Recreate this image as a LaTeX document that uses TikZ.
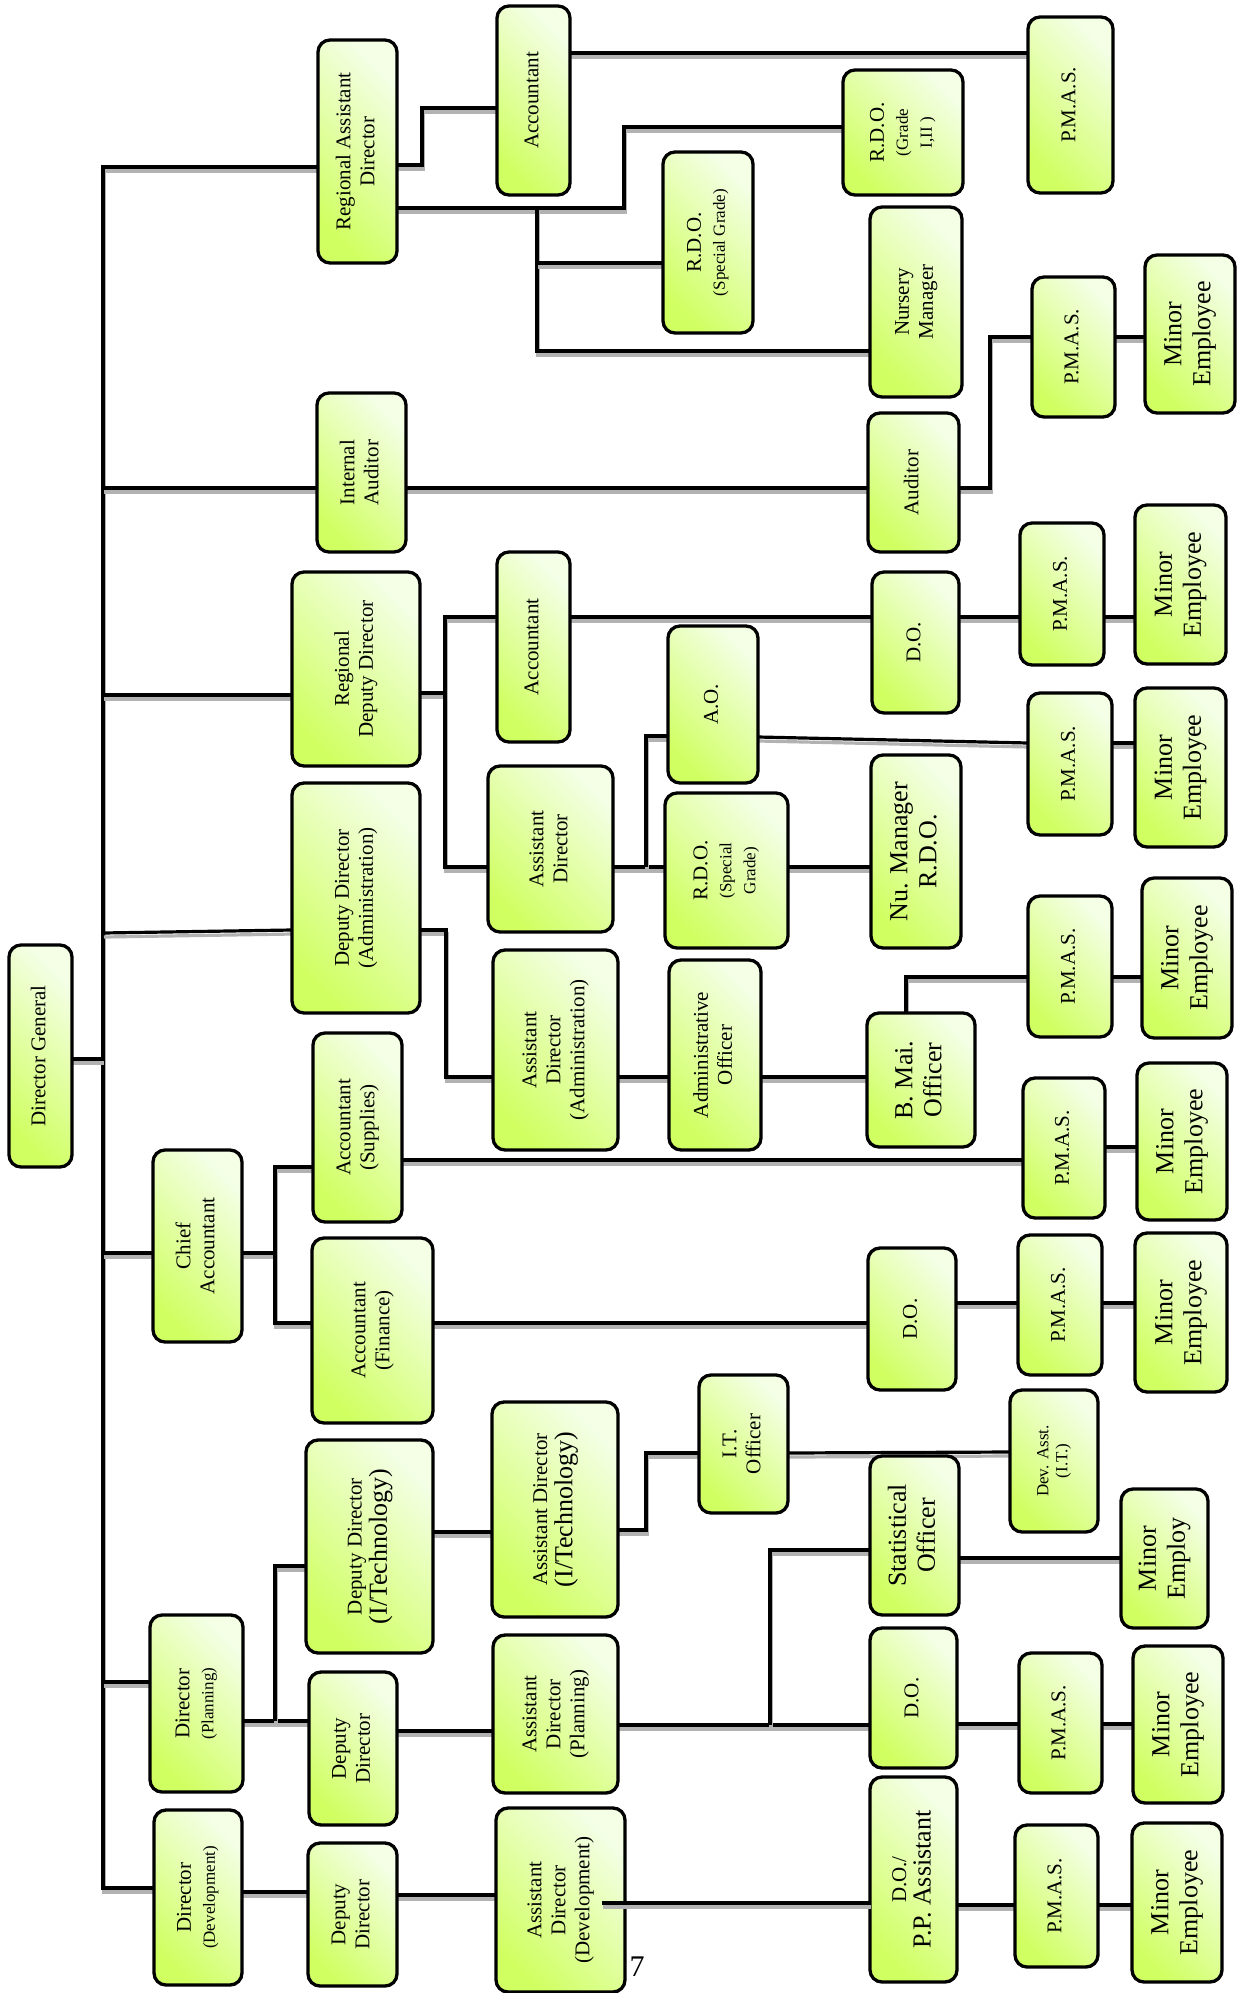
\documentclass[tikz,border=0pt]{standalone}
\usepackage{fontspec}
\usepackage{graphicx}
\setmainfont{Liberation Serif}
\usetikzlibrary{backgrounds}
\definecolor{gA}{HTML}{D0FF62}
\definecolor{gB}{HTML}{F4FFE6}
\newcommand\fsA{\fontsize{21}{24}\selectfont}
\newcommand\fsB{\fontsize{26}{29}\selectfont}
\newcommand\fsC{\fontsize{17}{19}\selectfont}
\newcommand\rtx[2][\fsA]{\rotatebox{90}{#1\begin{tabular}{@{}c@{}}#2\end{tabular}}}
\newcommand\ocbox[6]{%
  \pgfmathsetmacro\ocbcx{(#2+#4)/2}%
  \pgfmathsetmacro\ocbcy{(#3+#5)/2}%
  \pgfmathsetmacro\ocbww{#4-#2}%
  \pgfmathsetmacro\ocbhh{#5-#3}%
  \node[obox,minimum width=\ocbww pt,minimum height=\ocbhh pt] (#1) at (\ocbcx,\ocbcy) {#6};}
\tikzset{
  obox/.style={draw=black, line width=3.3pt, rounded corners=12pt,
    left color=gA, right color=gB, shading angle=135,
    inner sep=0pt, outer sep=0pt, text=black},
  conn/.style={line width=3.2pt, black,
    preaction={draw=gray!60, line width=3.2pt, transform canvas={shift={(1pt,-4pt)}}}}
}
\begin{document}
\begin{tikzpicture}[x=1pt,y=-1pt]
\useasboundingbox (0,0) rectangle (1241,1993);
% column 0
\ocbox{dg}{9}{945}{72}{1167}{\rtx{Director General}}
% column 1
\ocbox{rad}{318}{40}{397}{263}{\rtx{Regional Assistant\\Director}}
\ocbox{ia}{317}{393}{406}{552}{\rtx{Internal\\Auditor}}
\ocbox{rdd}{292}{572}{420}{766}{\rtx{Regional\\Deputy Director}}
\ocbox{dda}{292}{783}{420}{1013}{\rtx{Deputy Director\\(Administration)}}
\ocbox{ca}{153}{1150}{242}{1342}{\rtx{Chief\\Accountant}}
\ocbox{accs}{313}{1033}{402}{1222}{\rtx{Accountant\\(Supplies)}}
\ocbox{accf}{312}{1238}{433}{1423}{\rtx{Accountant\\(Finance)}}
\ocbox{ddit}{306}{1440}{433}{1653}{\rtx{Deputy Director\\\fsB(I/Technology)}}
\ocbox{dp}{150}{1615}{243}{1792}{\rtx{Director\\\fsC(Planning)}}
\ocbox{ddp}{309}{1672}{397}{1825}{\rtx{Deputy\\Director}}
\ocbox{dd}{154}{1810}{242}{1985}{\rtx{Director\\\fsC(Development)}}
\ocbox{ddd}{308}{1843}{397}{1986}{\rtx{Deputy\\Director}}
% column 2
\ocbox{acc1}{497}{6}{570}{195}{\rtx{Accountant}}
\ocbox{rdosg1}{663}{152}{753}{333}{\rtx{R.D.O.\\\fsC(Special Grade)}}
\ocbox{acc2}{497}{552}{570}{742}{\rtx{Accountant}}
\ocbox{ad1}{488}{766}{613}{932}{\rtx{Assistant\\Director}}
\ocbox{ao}{668}{626}{758}{783}{\rtx{A.O.}}
\ocbox{rdosg2}{665}{793}{788}{948}{\rtx{R.D.O.\\\fsC(Special\\\fsC Grade)}}
\ocbox{ada}{493}{950}{618}{1150}{\rtx{Assistant\\Director\\(Administration)}}
\ocbox{admo}{669}{960}{761}{1150}{\rtx{Administrative\\Officer}}
\ocbox{adit}{492}{1402}{618}{1617}{\rtx{Assistant Director\\\fsB(I/Technology)}}
\ocbox{ito}{699}{1375}{788}{1513}{\rtx{I.T.\\Officer}}
\ocbox{adp}{493}{1635}{618}{1793}{\rtx{Assistant\\Director\\(Planning)}}
\ocbox{add}{496}{1808}{625}{1992}{\rtx{Assistant\\Director\\(Development)}}
% column 3
\ocbox{rdog}{843}{70}{963}{195}{\rtx{R.D.O.\\\fsC(Grade\\\fsC I,II )}}
\ocbox{nm}{870}{207}{962}{397}{\rtx{Nursery\\Manager}}
\ocbox{aud}{868}{413}{959}{552}{\rtx{Auditor}}
\ocbox{do1}{872}{572}{959}{713}{\rtx{D.O.}}
\ocbox{num}{871}{755}{961}{948}{\rtx[\fsB]{Nu. Manager\\R.D.O.}}
\ocbox{bmo}{867}{1013}{975}{1147}{\rtx[\fsB]{B. Mai.\\Officer}}
\ocbox{do2}{868}{1248}{956}{1390}{\rtx{D.O.}}
\ocbox{so}{870}{1456}{959}{1615}{\rtx[\fsB]{Statistical\\Officer}}
\ocbox{do3}{870}{1628}{957}{1768}{\rtx{D.O.}}
\ocbox{dopp}{870}{1777}{957}{1982}{\rtx{D.O./\\\fsB P.P. Assistant}}
% column 4
\ocbox{pmas1}{1028}{17}{1113}{193}{\rtx{P.M.A.S.}}
\ocbox{pmas2}{1032}{277}{1115}{417}{\rtx{P.M.A.S.}}
\ocbox{pmas3}{1020}{523}{1104}{665}{\rtx{P.M.A.S.}}
\ocbox{pmas4}{1028}{693}{1112}{835}{\rtx{P.M.A.S.}}
\ocbox{pmas5}{1028}{896}{1112}{1037}{\rtx{P.M.A.S.}}
\ocbox{pmas6}{1023}{1078}{1105}{1218}{\rtx{P.M.A.S.}}
\ocbox{pmas7}{1018}{1235}{1102}{1375}{\rtx{P.M.A.S.}}
\ocbox{dev}{1010}{1390}{1098}{1532}{\rtx[\fsC]{Dev. Asst.\\(I.T.)}}
\ocbox{pmas8}{1019}{1653}{1102}{1793}{\rtx{P.M.A.S.}}
\ocbox{pmas9}{1015}{1825}{1098}{1967}{\rtx{P.M.A.S.}}
% column 5
\ocbox{me2}{1145}{255}{1235}{413}{\rtx[\fsB]{Minor\\Employee}}
\ocbox{me3}{1135}{505}{1226}{664}{\rtx[\fsB]{Minor\\Employee}}
\ocbox{me4}{1135}{688}{1226}{847}{\rtx[\fsB]{Minor\\Employee}}
\ocbox{me5}{1142}{878}{1232}{1038}{\rtx[\fsB]{Minor\\Employee}}
\ocbox{me6}{1137}{1063}{1227}{1220}{\rtx[\fsB]{Minor\\Employee}}
\ocbox{me7}{1135}{1233}{1227}{1392}{\rtx[\fsB]{Minor\\Employee}}
\ocbox{mem}{1121}{1489}{1208}{1628}{\rtx[\fsB]{Minor\\Employ}}
\ocbox{me8}{1133}{1646}{1223}{1803}{\rtx[\fsB]{Minor\\Employee}}
\ocbox{me9}{1132}{1823}{1222}{1982}{\rtx[\fsB]{Minor\\Employee}}
% page number
\node[inner sep=0pt] (pg) at (637,1967) {\fontsize{30}{32}\selectfont 7};
% junction coordinates
\coordinate (ttop) at (103,167);
\coordinate (tbot) at (103,1888);
\coordinate (jrad) at (537,208);
\coordinate (jad) at (646,867);
\coordinate (jca) at (275,1253);
\coordinate (jdp) at (275,1721);
\coordinate (jadp) at (770,1725);
\coordinate (addj) at (602,1903);
\begin{pgfonlayer}{background}
\draw[conn] (rad.west |- ttop) -- (ttop) -- (tbot) -- (dd.west |- tbot);
\draw[conn] (dg.east |- 0,1059) -- (ttop |- 0,1059);
\draw[conn] (ttop |- 0,488) -- (ia.west |- 0,488);
\draw[conn] (ttop |- 0,695) -- (rdd.west |- 0,695);
\draw[conn] (ttop |- 0,933) -- (dda.west |- 0,930);
\draw[conn] (ttop |- 0,1253) -- (ca.west |- 0,1253);
\draw[conn] (ttop |- 0,1682) -- (dp.west |- 0,1682);
% regional assistant director
\draw[conn] (rad.east |- 0,165) -| (422,108) -- (acc1.west |- 0,108);
\draw[conn] (acc1.east |- 0,53) -- (pmas1.west |- 0,53);
\draw[conn] (rad.east |- 0,208) -| (624,127) -- (rdog.west |- 0,127);
\draw[conn] (jrad) |- (nm.west |- 0,351);
\draw[conn] (jrad |- 0,263) -- (rdosg1.west |- 0,263);
% internal auditor
\draw[conn] (ia.east |- 0,488) -- (aud.west |- 0,488);
\draw[conn] (aud.east |- 0,488) -| (990,337) -- (pmas2.west |- 0,337);
\draw[conn] (pmas2.east |- 0,337) -- (me2.west |- 0,337);
% regional deputy director
\draw[conn] (rdd.east |- 0,693) -- (445,693);
\draw[conn] (acc2.west |- 0,617) -| (445,867) -- (ad1.west |- 0,867);
\draw[conn] (acc2.east |- 0,617) -- (do1.west |- 0,617);
\draw[conn] (do1.east |- 0,617) -- (pmas3.west |- 0,617);
\draw[conn] (pmas3.east |- 0,617) -- (me3.west |- 0,617);
\draw[conn] (ad1.east |- jad) -- (rdosg2.west |- jad);
\draw[conn] (jad) |- (ao.west |- 0,736);
\draw[conn] (rdosg2.east |- jad) -- (num.west |- jad);
\draw[conn] (ao.east |- 0,737) -- (pmas4.west |- 0,743);
\draw[conn] (pmas4.east |- 0,743) -- (me4.west |- 0,743);
% deputy director administration
\draw[conn] (dda.east |- 0,930) -| (446,1077) -- (ada.west |- 0,1077);
\draw[conn] (ada.east |- 0,1077) -- (admo.west |- 0,1077);
\draw[conn] (admo.east |- 0,1077) -- (bmo.west |- 0,1077);
\draw[conn] (bmo.north -| 906,0) |- (pmas5.west |- 0,977);
\draw[conn] (pmas5.east |- 0,977) -- (me5.west |- 0,977);
% chief accountant
\draw[conn] (ca.east |- jca) -- (jca);
\draw[conn] (accs.west |- 0,1167) -| (275,1323) -- (accf.west |- 0,1323);
\draw[conn] (accs.east |- 0,1160) -- (pmas6.west |- 0,1160);
\draw[conn] (pmas6.east |- 0,1147) -- (me6.west |- 0,1147);
\draw[conn] (accf.east |- 0,1323) -- (do2.west |- 0,1323);
\draw[conn] (do2.east |- 0,1303) -- (pmas7.west |- 0,1303);
\draw[conn] (pmas7.east |- 0,1303) -- (me7.west |- 0,1303);
% director planning
\draw[conn] (dp.east |- jdp) -- (ddp.west |- jdp);
\draw[conn] (jdp) |- (ddit.west |- 0,1566);
\draw[conn] (ddit.east |- 0,1532) -- (adit.west |- 0,1532);
\draw[conn] (adit.east |- 0,1530) -| (646,1453) -- (ito.west |- 0,1453);
\draw[conn] (ito.east |- 0,1453) -- (dev.west |- 0,1452);
\draw[conn] (ddp.east |- 0,1731) -- (adp.west |- 0,1731);
\draw[conn] (adp.east |- jadp) -- (do3.west |- jadp);
\draw[conn] (jadp) |- (so.west |- 0,1550);
\draw[conn] (so.east |- 0,1558) -- (mem.west |- 0,1558);
\draw[conn] (do3.east |- 0,1724) -- (pmas8.west |- 0,1724);
\draw[conn] (pmas8.east |- 0,1724) -- (me8.west |- 0,1724);
% director development
\draw[conn] (dd.east |- 0,1892) -- (ddd.west |- 0,1892);
\draw[conn] (ddd.east |- 0,1895) -- (add.west |- 0,1895);
\draw[conn] (dopp.east |- 0,1905) -- (pmas9.west |- 0,1905);
\draw[conn] (pmas9.east |- 0,1905) -- (me9.west |- 0,1905);
\end{pgfonlayer}
\draw[conn] (addj) -- (dopp.west |- addj);
\end{tikzpicture}
\end{document}
